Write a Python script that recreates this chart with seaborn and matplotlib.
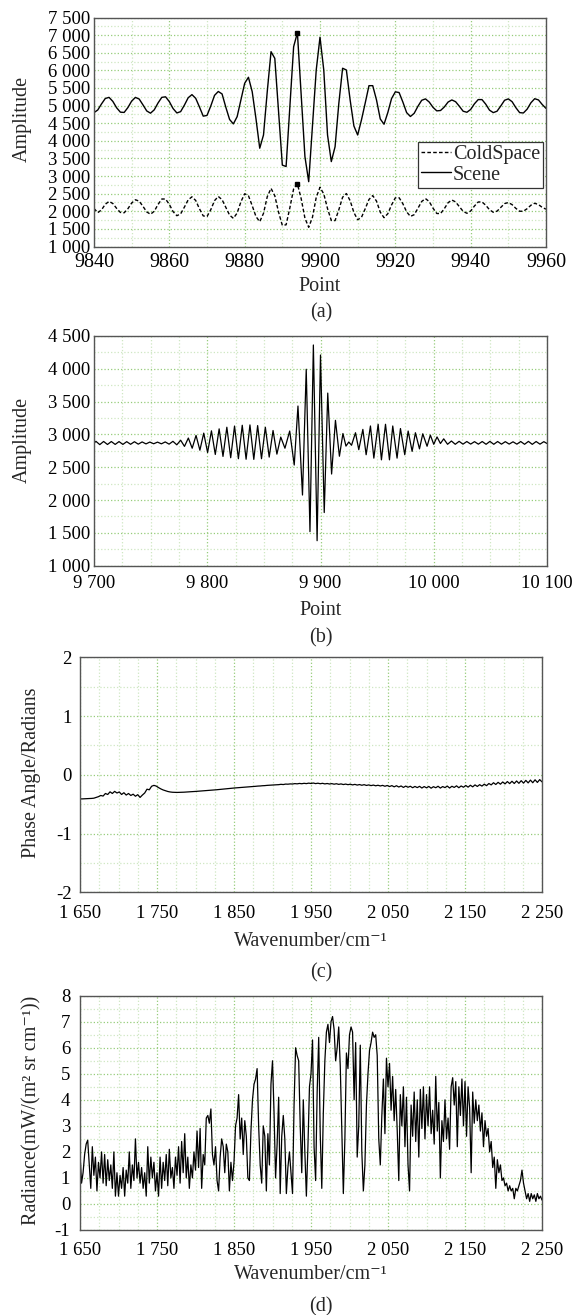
import numpy as np
import pandas as pd
import matplotlib
matplotlib.use("Agg")
import matplotlib.pyplot as plt
import seaborn as sns
from matplotlib.ticker import MultipleLocator, FixedLocator, FuncFormatter

# ---------------- data ----------------
# (a) interferogram samples, point 9840..9960
a_point = list(range(9840, 9961))
a_scene = [4800, 4875, 5048, 5202, 5233, 5119, 4938, 4813, 4805, 4944,
           5128, 5232, 5185, 5020, 4848, 4784, 4880, 5074, 5233, 5249,
           5112, 4915, 4791, 4828, 5013, 5221, 5311, 5206, 4960, 4700,
           4720, 4987, 5290, 5400, 5330, 4952, 4605, 4480, 4685, 5159,
           5632, 5803, 5394, 4628, 3790, 4165, 5400, 6530, 6340, 4825,
           3310, 3270, 4970, 6670, 7070, 5310, 3550, 2840, 4425, 6010,
           6940, 6010, 4165, 3410, 3830, 5065, 6060, 6010, 5160, 4420,
           4165, 4590, 5070, 5565, 5565, 5160, 4620, 4470, 4800, 5200,
           5390, 5370, 5100, 4800, 4690, 4780, 4980, 5150, 5190, 5100,
           4950, 4850, 4860, 4960, 5100, 5160, 5110, 4980, 4840, 4810,
           4890, 5050, 5170, 5170, 5040, 4870, 4800, 4840, 4990, 5150,
           5190, 5110, 4940, 4800, 4790, 4900, 5080, 5195, 5160, 5030,
           4920]
a_cold = [2080, 1960, 2040, 2200, 2280, 2220, 2083, 1967, 1957, 2072,
          2234, 2327, 2287, 2140, 1982, 1915, 2001, 2193, 2348, 2348,
          2194, 1990, 1874, 1926, 2118, 2323, 2410, 2306, 2070, 1869,
          1850, 2044, 2302, 2420, 2329, 2110, 1890, 1800, 1949, 2269,
          2496, 2442, 2159, 1850, 1705, 1941, 2414, 2650, 2440, 1975,
          1599, 1616, 2100, 2636, 2775, 2360, 1803, 1545, 1829, 2396,
          2680, 2492, 2075, 1739, 1735, 2043, 2398, 2503, 2302, 1965,
          1760, 1825, 2071, 2334, 2445, 2288, 1975, 1818, 1930, 2180,
          2381, 2385, 2213, 1984, 1854, 1903, 2084, 2278, 2360, 2275,
          2088, 1937, 1935, 2073, 2243, 2320, 2265, 2131, 1998, 1943,
          2007, 2149, 2263, 2266, 2171, 2044, 1972, 2003, 2110, 2218,
          2248, 2188, 2082, 2001, 2001, 2074, 2172, 2228, 2190, 2110,
          2060]

# (b) interferogram turning points, point 9700..10100
b_point = [9700.0, 9701.7, 9705.1, 9708.5, 9711.9, 9715.3, 9718.7, 9722.1, 9725.5, 9728.9,
           9732.3, 9735.7, 9739.1, 9742.5, 9745.9, 9749.3, 9752.7, 9756.1, 9759.5, 9762.9,
           9766.3, 9769.7, 9773.1, 9776.5, 9779.9, 9783.3, 9786.7, 9790.1, 9793.5, 9796.9,
           9800.3, 9803.7, 9807.1, 9810.5, 9813.9, 9817.3, 9820.7, 9824.1, 9827.5, 9830.9,
           9834.3, 9837.7, 9841.1, 9844.5, 9847.9, 9851.3, 9854.7, 9858.1, 9861.5, 9864.9,
           9868.6, 9872.8, 9876.8, 9880.1, 9884.1, 9887.4, 9890.7, 9893.7, 9897.0, 9900.0,
           9903.3, 9906.4, 9909.8, 9913.2, 9916.7, 9919.8, 9922.5, 9925.0, 9927.4, 9930.9,
           9933.8, 9937.4, 9940.3, 9944.1, 9947.1, 9950.9, 9953.8, 9957.4, 9960.9, 9963.8,
           9967.6, 9970.6, 9974.4, 9977.4, 9980.9, 9983.8, 9987.4, 9990.3, 9994.1, 9997.0,
           10000.0, 10002.9, 10005.9, 10008.8, 10012.2, 10015.6, 10019.0, 10022.4, 10025.8, 10029.2,
           10032.6, 10036.0, 10039.4, 10042.8, 10046.2, 10049.6, 10053.0, 10056.4, 10059.8, 10063.2,
           10066.6, 10070.0, 10073.4, 10076.8, 10080.2, 10083.6, 10087.0, 10090.4, 10093.8, 10097.2,
           10100.0]
b_amp = [2868, 2895, 2845, 2893, 2847, 2892, 2848, 2891, 2848, 2890,
         2850, 2889, 2852, 2886, 2856, 2884, 2858, 2883, 2857, 2886,
         2852, 2895, 2842, 2912, 2818, 2945, 2790, 2985, 2760, 3020,
         2725, 3055, 2695, 3085, 2665, 3110, 2645, 3128, 2630, 3140,
         2622, 3145, 2620, 3135, 2630, 3110, 2655, 3060, 2700, 2960,
         2790, 3052, 2534, 3433, 2077, 3993, 1519, 4363, 1381, 4210,
         1810, 3630, 2397, 3215, 2668, 3014, 2822, 2885, 2835, 3026,
         2768, 3077, 2691, 3129, 2639, 3155, 2613, 3155, 2613, 3129,
         2639, 3090, 2691, 3052, 2742, 3026, 2780, 3010, 2820, 2990,
         2850, 2962, 2862, 2933, 2850, 2900, 2850, 2895, 2852, 2892,
         2853, 2890, 2852, 2892, 2850, 2894, 2850, 2892, 2852, 2890,
         2853, 2888, 2852, 2892, 2850, 2894, 2849, 2892, 2852, 2890,
         2862]

# (c) phase angle, wavenumber 1650..2250 step 3
c_wavenumber = np.arange(1650, 2251, 3)
c_phase = [-0.410, -0.410, -0.408, -0.407, -0.405, -0.402, -0.398, -0.385, -0.372, -0.352,
           -0.362, -0.318, -0.335, -0.290, -0.318, -0.282, -0.310, -0.292, -0.335, -0.305,
           -0.345, -0.318, -0.352, -0.330, -0.365, -0.338, -0.385, -0.345, -0.310, -0.245,
           -0.255, -0.195, -0.180, -0.192, -0.218, -0.240, -0.258, -0.272, -0.284, -0.292,
           -0.297, -0.299, -0.300, -0.299, -0.297, -0.296, -0.293, -0.291, -0.288, -0.286,
           -0.283, -0.280, -0.278, -0.275, -0.272, -0.268, -0.265, -0.262, -0.259, -0.255,
           -0.251, -0.248, -0.244, -0.240, -0.236, -0.232, -0.228, -0.224, -0.221, -0.218,
           -0.214, -0.212, -0.208, -0.205, -0.202, -0.199, -0.196, -0.192, -0.190, -0.186,
           -0.184, -0.180, -0.178, -0.175, -0.172, -0.170, -0.168, -0.162, -0.166, -0.158,
           -0.160, -0.155, -0.157, -0.150, -0.154, -0.147, -0.152, -0.145, -0.150, -0.142,
           -0.148, -0.140, -0.150, -0.143, -0.152, -0.145, -0.155, -0.148, -0.157, -0.150,
           -0.160, -0.152, -0.163, -0.155, -0.166, -0.158, -0.168, -0.160, -0.172, -0.163,
           -0.175, -0.166, -0.178, -0.168, -0.181, -0.172, -0.184, -0.175, -0.187, -0.178,
           -0.190, -0.180, -0.195, -0.182, -0.200, -0.184, -0.205, -0.186, -0.208, -0.190,
           -0.215, -0.192, -0.212, -0.195, -0.220, -0.198, -0.218, -0.196, -0.225, -0.200,
           -0.222, -0.198, -0.228, -0.202, -0.220, -0.195, -0.226, -0.200, -0.218, -0.192,
           -0.225, -0.195, -0.215, -0.188, -0.220, -0.190, -0.212, -0.182, -0.210, -0.178,
           -0.205, -0.172, -0.198, -0.168, -0.192, -0.160, -0.185, -0.148, -0.172, -0.135,
           -0.165, -0.128, -0.160, -0.122, -0.155, -0.115, -0.150, -0.110, -0.148, -0.105,
           -0.145, -0.100, -0.142, -0.095, -0.138, -0.090, -0.135, -0.085, -0.130, -0.082,
           -0.120]

# (d) radiance spectrum, wavenumber 1650..2250 step 2
d_wavenumber = np.arange(1650, 2251, 2)
d_radiance = [1.95, 0.8, 1.2, 1.9, 2.3, 2.45, 1.5, 0.6, 2.2, 1.1,
              1.8, 0.5, 1.6, 1.0, 2.0, 0.8, 1.9, 0.7, 1.7, 0.9,
              1.5, 0.6, 2.0, 0.3, 1.2, 0.3, 1.1, 0.6, 1.4, 0.3,
              1.3, 0.8, 2.0, 0.6, 1.5, 0.9, 2.5, 1.0, 1.6, 0.8,
              1.4, 0.6, 1.2, 0.3, 2.2, 0.8, 1.8, 1.0, 1.6, 0.5,
              1.2, 0.3, 1.8, 0.6, 1.6, 0.9, 1.9, 0.7, 2.1, 1.0,
              1.4, 0.6, 1.8, 1.1, 2.2, 0.8, 2.4, 1.2, 2.7, 1.0,
              1.8, 0.6, 1.5, 1.0, 2.0, 1.3, 2.8, 1.4, 2.9, 0.6,
              1.9, 1.5, 3.3, 3.4, 3.1, 3.65, 1.9, 1.5, 2.2, 0.9,
              0.5, 1.8, 2.5, 2.2, 1.2, 2.3, 2.0, 0.5, 1.6, 0.9,
              1.6, 3.0, 3.3, 4.2, 2.5, 3.3, 1.9, 3.2, 2.6, 1.0,
              0.9, 2.8, 4.0, 4.6, 4.8, 5.2, 3.0, 1.5, 0.8, 3.0,
              2.6, 0.5, 2.7, 1.5, 4.6, 5.5, 3.5, 1.0, 2.3, 4.1,
              0.4, 2.6, 3.4, 2.5, 0.4, 1.4, 2.0, 1.2, 0.4, 3.8,
              6.0, 5.7, 5.5, 3.0, 1.2, 4.0, 2.0, 0.3, 2.2, 4.5,
              5.0, 6.3, 2.2, 0.9, 4.3, 6.4, 2.7, 0.6, 3.5, 5.5,
              6.6, 6.9, 6.2, 7.0, 7.2, 6.7, 5.5, 6.0, 6.8, 5.3,
              2.8, 0.4, 2.5, 5.8, 5.2, 6.5, 6.8, 6.6, 4.0, 6.2,
              1.8, 3.0, 6.1, 2.0, 0.5, 1.5, 3.8, 5.0, 5.9, 6.2,
              6.6, 6.4, 6.5, 5.7, 2.5, 1.5, 3.4, 4.8, 2.7, 5.6,
              4.5, 5.4, 3.6, 4.9, 3.2, 4.4, 2.8, 0.9, 4.2, 3.0,
              4.5, 2.2, 4.1, 1.5, 0.5, 3.8, 2.6, 4.3, 2.4, 4.0,
              1.8, 4.4, 2.9, 4.5, 2.5, 4.2, 3.0, 4.5, 2.7, 3.6,
              2.3, 4.9, 2.8, 3.9, 1.0, 3.2, 2.4, 4.0, 2.5, 3.3,
              2.1, 4.5, 4.85, 3.8, 4.7, 2.2, 4.5, 3.4, 4.8, 3.0,
              4.7, 2.6, 4.5, 3.7, 1.2, 4.3, 3.1, 4.0, 3.2, 3.8,
              2.8, 3.5, 2.2, 3.2, 2.6, 2.9, 2.0, 2.4, 1.4, 1.8,
              0.6, 1.7, 1.2, 1.5, 0.9, 1.0, 0.7, 0.8, 0.5, 0.7,
              0.5, 0.6, 0.2, 0.6, 0.5, 0.7, 0.9, 1.3, 0.8, 0.5,
              0.2, 0.4, 0.1, 0.4, 0.2, 0.35, 0.1, 0.4, 0.2, 0.3,
              0.15]

captions = ["(a)", "(b)", "(c)", "(d)"]

# ---------------- style ----------------
sns.set_theme(style="white")
plt.rcParams['font.family'] = ['Liberation Serif', 'DejaVu Serif']
plt.rcParams['axes.unicode_minus'] = False

TICK_FS = 13.5
LAB_FS = 14.5
MAJ_GRID = '#96cc7a'
MIN_GRID = '#cfe7c2'

W, H = 581, 1315
fig = plt.figure(figsize=(W / 100, H / 100), dpi=100)
fig.patch.set_facecolor('white')


def add_axes(left, right, top, bottom):
    return fig.add_axes([left / W, 1 - bottom / H, (right - left) / W, (bottom - top) / H])


def thousands(v, pos):
    return f"{int(round(v)):,}".replace(",", " ")


def style(ax, xpad, ypad):
    ax.set_axisbelow(True)
    ax.grid(which='minor', color=MIN_GRID, linestyle=':', linewidth=0.9)
    ax.grid(which='major', color=MAJ_GRID, linestyle=':', linewidth=0.9)
    ax.tick_params(which='major', direction='in', length=3.5, width=0.8,
                   colors='#333333', labelcolor='black', labelsize=TICK_FS,
                   top=False, right=False)
    ax.tick_params(axis='x', which='major', pad=xpad)
    ax.tick_params(axis='y', which='major', pad=ypad)
    ax.tick_params(which='minor', length=0)
    for sp in ax.spines.values():
        sp.set_color('#555555')
        sp.set_linewidth(1.0)
        sp.set_visible(True)
    ax.set_facecolor('white')


def place_labels(ax, xl, yl, xy, yx, yy):
    ax.set_xlabel(xl, fontsize=LAB_FS)
    ax.set_ylabel(yl, fontsize=LAB_FS)
    ax.xaxis.label.set_va('center')
    ax.yaxis.label.set_va('center')
    ax.xaxis.set_label_coords(0.5, xy)
    ax.yaxis.set_label_coords(yx, yy)


# ---- (a) ----
axA = add_axes(94, 546, 17.5, 246.5)
dfa = pd.DataFrame({'Point': a_point, 'Scene': a_scene, 'ColdSpace': a_cold})
sns.lineplot(data=dfa, x='Point', y='ColdSpace', ax=axA, color='black', lw=1.0,
             label='ColdSpace', estimator=None, sort=False)
sns.lineplot(data=dfa, x='Point', y='Scene', ax=axA, color='black', lw=1.0,
             label='Scene', estimator=None, sort=False)
axA.lines[0].set_dashes([2.6, 1.6])
i_s = int(np.argmax(a_scene))
i_c = int(np.argmax(a_cold))
axA.plot([a_point[i_s]], [a_scene[i_s]], 's', color='black', ms=3.2)
axA.plot([a_point[i_c]], [a_cold[i_c]], 's', color='black', ms=3.2)
axA.set_xlim(9840, 9960)
axA.set_ylim(1000, 7500)
axA.xaxis.set_major_locator(MultipleLocator(20))
axA.xaxis.set_minor_locator(MultipleLocator(10))
axA.yaxis.set_major_locator(MultipleLocator(500))
axA.yaxis.set_minor_locator(MultipleLocator(250))
axA.yaxis.set_major_formatter(FuncFormatter(thousands))
axA.xaxis.set_major_formatter(FuncFormatter(lambda v, p: f"{int(round(v))}"))
style(axA, 5, 3)
axA.tick_params(axis='x', labelsize=14.5)
place_labels(axA, 'Point', 'Amplitude', -0.175, -0.158, 0.557)
leg = axA.legend(loc='upper right', bbox_to_anchor=(0.994, 0.455), frameon=True,
                 fancybox=False, edgecolor='#333333', framealpha=1, fontsize=14.5,
                 handlelength=1.45, handletextpad=0.12, borderpad=0.15,
                 labelspacing=0.05, borderaxespad=0)
leg.get_frame().set_linewidth(0.9)

# ---- (b) ----
axB = add_axes(94, 547, 336, 565.7)
dfb = pd.DataFrame({'Point': b_point, 'Amplitude': b_amp})
sns.lineplot(data=dfb, x='Point', y='Amplitude', ax=axB, color='black', lw=0.9,
             estimator=None, sort=False)
axB.set_xlim(9700, 10100)
axB.set_ylim(1000, 4500)
axB.xaxis.set_major_locator(MultipleLocator(100))
axB.xaxis.set_minor_locator(MultipleLocator(25))
axB.yaxis.set_major_locator(MultipleLocator(500))
axB.yaxis.set_minor_locator(MultipleLocator(250))
axB.yaxis.set_major_formatter(FuncFormatter(thousands))
axB.xaxis.set_major_formatter(FuncFormatter(thousands))
style(axB, 7, 3)
place_labels(axB, 'Point', 'Amplitude', -0.193, -0.158, 0.547)

# ---- (c) ----
axC = add_axes(80, 542, 657.3, 892.3)
dfc = pd.DataFrame({'wn': c_wavenumber, 'phase': c_phase})
sns.lineplot(data=dfc, x='wn', y='phase', ax=axC, color='black', lw=0.9,
             estimator=None, sort=False)
axC.set_xlim(1650, 2250)
axC.set_ylim(-2, 2)
axC.xaxis.set_major_locator(FixedLocator(np.arange(1650, 2251, 100)))
axC.xaxis.set_minor_locator(MultipleLocator(25))
axC.yaxis.set_major_locator(MultipleLocator(1))
axC.yaxis.set_minor_locator(MultipleLocator(0.5))
axC.xaxis.set_major_formatter(FuncFormatter(thousands))
axC.yaxis.set_major_formatter(FuncFormatter(lambda v, p: f"{int(round(v))}"))
style(axC, 9, 6)
place_labels(axC, 'Wavenumber/cm\u207b\u00b9', 'Phase Angle/Radians',
             -0.210, -0.1045, 0.51)

# ---- (d) ----
axD = add_axes(80, 542, 995.7, 1230)
dfd = pd.DataFrame({'wn': d_wavenumber, 'rad': d_radiance})
sns.lineplot(data=dfd, x='wn', y='rad', ax=axD, color='black', lw=0.9,
             estimator=None, sort=False)
axD.set_xlim(1650, 2250)
axD.set_ylim(-1, 8)
axD.xaxis.set_major_locator(FixedLocator(np.arange(1650, 2251, 100)))
axD.xaxis.set_minor_locator(MultipleLocator(25))
axD.yaxis.set_major_locator(MultipleLocator(1))
axD.yaxis.set_minor_locator(MultipleLocator(0.5))
axD.xaxis.set_major_formatter(FuncFormatter(thousands))
axD.yaxis.set_major_formatter(FuncFormatter(lambda v, p: f"{int(round(v))}"))
style(axD, 8.5, 7)
place_labels(axD, 'Wavenumber/cm\u207b\u00b9',
             'Radiance(mW/(m\u00b2 sr cm\u207b\u00b9))',
             -0.188, -0.1045, 0.512)

# ---- captions ----
for cap, yc in zip(captions, [313.3, 638.3, 973.3, 1306.7]):
    fig.text(321 / W, 1 - yc / H, cap, ha='center', va='center', fontsize=LAB_FS)

fig.savefig('out.png', dpi=100, facecolor='white')
